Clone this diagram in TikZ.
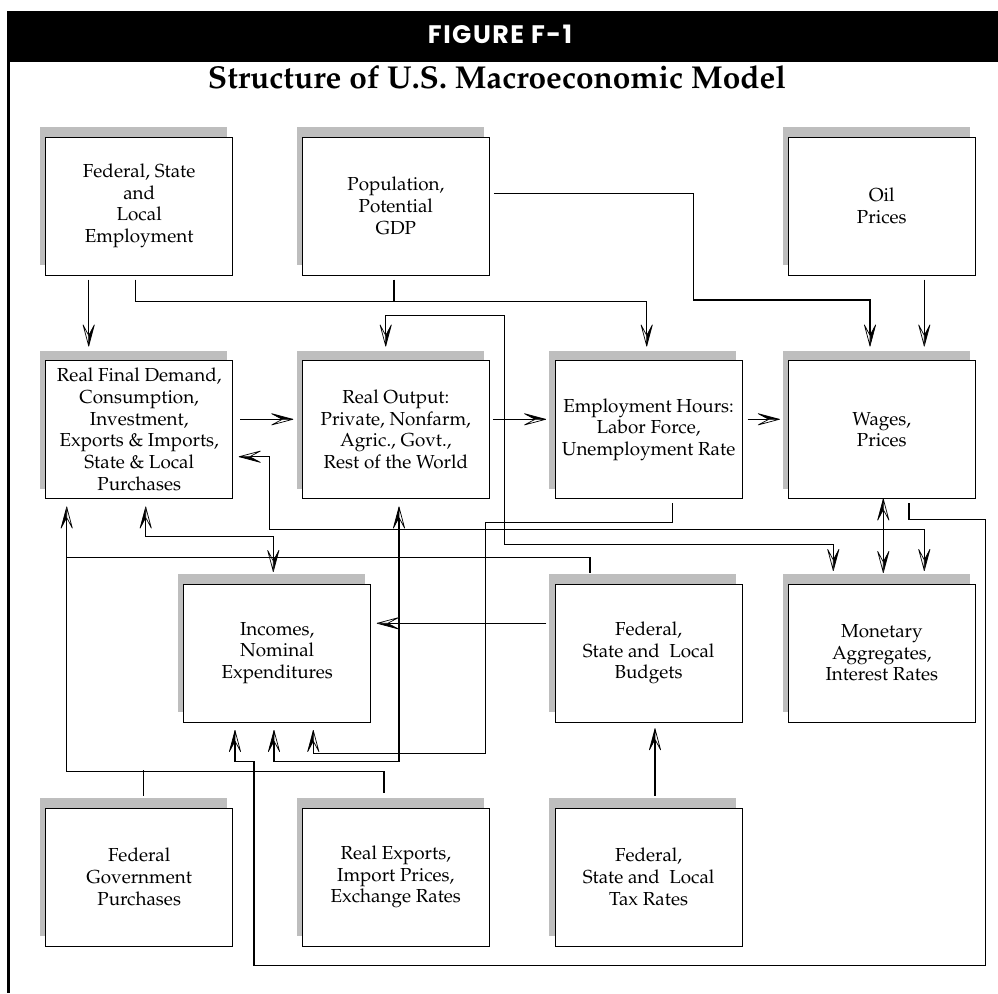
\documentclass[tikz,border=0pt]{standalone}
\usepackage[T1,TU]{fontenc}
\usepackage{fontspec}
\newfontfamily\headfont{Poppins}[LetterSpace=6]
\newcommand\pala{\fontencoding{T1}\fontfamily{ppl}\selectfont}
\usepackage{tikz}
\usetikzlibrary{calc, shadows}

\definecolor{shade}{HTML}{BEBEBE}

% barbed tip: left half solid, right half open
\pgfdeclarearrow{
  name = Barb,
  setup code = {
    \pgfarrowssettipend{0pt}
    \pgfarrowssetlineend{-7pt}
    \pgfarrowssetvisualbackend{-15pt}
    \pgfarrowssetbackend{-15pt}
    \pgfarrowshullpoint{0pt}{0pt}
    \pgfarrowsupperhullpoint{-15pt}{4pt}
  },
  drawing code = {
    \pgfsetlinewidth{0.5pt}
    \pgfsetroundjoin
    \pgfpathmoveto{\pgfqpoint{0pt}{0pt}}
    \pgfpathlineto{\pgfqpoint{-15pt}{4pt}}
    \pgfpathlineto{\pgfqpoint{-7.5pt}{0pt}}
    \pgfpathclose
    \pgfsetfillcolor{black}
    \pgfusepathqfillstroke
    \pgfpathmoveto{\pgfqpoint{0pt}{0pt}}
    \pgfpathlineto{\pgfqpoint{-15pt}{-4pt}}
    \pgfpathlineto{\pgfqpoint{-7.5pt}{0pt}}
    \pgfpathclose
    \pgfsetfillcolor{white}
    \pgfusepathqfillstroke
  }
}

\begin{document}
\begin{tikzpicture}[x=0.25mm, y=-0.25mm,
  box/.style={draw, line width=0.7pt, fill=white, inner sep=0pt,
    minimum width=46.75mm, minimum height=34.5mm, align=center,
    font=\pala\fontsize{13.4}{15.4}\selectfont,
    general shadow={fill=shade, shadow xshift=-1.43mm, shadow yshift=2.43mm}},
  wire/.style={line width=0.9pt},
  feed/.style={wire, -Barb},
  twoway/.style={wire, Barb-Barb}]
\useasboundingbox (0,0) rectangle (998,993);

\fill (7,11) rectangle (998,62);
\draw[line width=2.1pt] (8.5,62) -- (8.5,993);
\node[text=white, font=\headfont\bfseries\fontsize{18}{20}\selectfont] (head) at (500,34) {FIGURE F-1};
\node[font=\pala\bfseries\fontsize{22.5}{25}\selectfont] (title) at (497,77.5) {Structure of U.S. Macroeconomic Model};

\node[box] (fsle) at (139.2, 206) {Federal, State\\and\\Local\\Employment};
\node[box] (pop) at (395.8, 206) {Population,\\Potential\\GDP};
\node[box] (oil) at (881.8, 206) {Oil\\Prices};

\node[box] (rfd) at (139.2, 429.5) {Real Final Demand,\\Consumption,\\Investment,\\Exports \& Imports,\\State \& Local\\Purchases};
\node[box] (ro) at (395.8, 429.5) {Real Output:\\Private, Nonfarm,\\Agric., Govt.,\\Rest of the World};
\node[box] (emp) at (648.6, 429.5) {Employment Hours:\\Labor Force,\\Unemployment Rate};
\node[box] (wp) at (881.8, 429.5) {Wages,\\Prices};

\node[box] (inc) at (277.2, 653) {Incomes,\\Nominal\\Expenditures};
\node[box] (bud) at (648.6, 653) {Federal,\\State and~ Local\\Budgets};
\node[box] (mon) at (881.8, 653) {Monetary\\Aggregates,\\Interest Rates};

\node[box] (fgp) at (139.2, 877) {Federal\\Government\\Purchases};
\node[box] (rex) at (395.8, 877) {Real Exports,\\Import Prices,\\Exchange Rates};
\node[box] (tax) at (648.6, 877) {Federal,\\State and~ Local\\Tax Rates};

\draw[feed] ($(fsle.south)+(-50.5,4)$) -- ($(rfd.north)+(-50.5,-14)$);
\draw[feed] ($(fsle.south)+(-3.9,4)$) |- ($(emp.north)+(-1.9,-58.8)$) -- ($(emp.north)+(-1.9,-14)$);
\draw[wire] ($(pop.south)+(-1.8,4)$) -- ($(pop.south)+(-1.8,26.7)$);
\draw[feed] ($(pop.east)+(4,-12.7)$) -| ($(pop.east)+(204,94)$) -| ($(wp.north)+(-11.8,-14)$);
\draw[feed] ($(oil.south)+(42.5,4)$) -- ($(wp.north)+(42.5,-14)$);

\draw[feed] ($(rfd.east)+(7,-10.2)$) -- ($(ro.west)+(-9,-10.2)$);
\draw[feed] ($(ro.east)+(3,-10.2)$) -- ($(emp.west)+(-9,-10.2)$);
\draw[feed] ($(emp.east)+(5,-10.2)$) -- ($(wp.west)+(-8.5,-10.2)$);

\draw[twoway] ($(rfd.east)+(6,27.2)$) -| ($(rfd.east)+(36.6,99.8)$) -| ($(mon.north)+(42.5,-13)$);
\draw[twoway] ($(rfd.south)+(6.5,8)$) |- ($(inc.north)+(-3.9,-46.7)$) -- ($(inc.north)+(-3.9,-12)$);
\draw[twoway] ($(ro.north)+(-10.1,-14)$) |- ($(ro.north)+(108.5,-44.8)$) |- ($(mon.north)+(-48.5,-39)$) -- ($(mon.north)+(-48.5,-13)$);
\draw[twoway] ($(wp.south)+(1.5,0)$) -- ($(mon.north)+(1.5,-11)$);
\draw[twoway] ($(ro.south)+(3.2,8)$) |- ($(inc.south)+(-3.2,39)$) -- ($(inc.south)+(-3.2,8)$);

\draw[feed] ($(emp.south)+(23.7,4)$) |- ($(inc.south)+(208.1,-200.3)$) |- ($(inc.south)+(36.1,30.7)$) -- ($(inc.south)+(36.1,8)$);
\draw[feed] ($(wp.south)+(27.2,4)$) |- ($(wp.south)+(103.9,20.5)$) |- ($(inc.south)+(-23.2,243)$) |- ($(inc.south)+(-42.2,39)$) -- ($(inc.south)+(-42.2,8)$);
\draw[feed] ($(bud.west)+(-8.3,-29.7)$) -- ($(inc.east)+(6,-29.7)$);

\draw[feed] ($(bud.north)+(-58.6,-11)$) |- ($(rfd.south)+(-72.5,58.2)$) -- ($(rfd.south)+(-72.5,8)$);
\draw[wire] ($(rex.north)+(-11.8,-15)$) |- ($(rfd.south)+(-72.5,272.2)$) -- ($(rfd.south)+(-72.5,58.2)$);
\draw[wire] ($(fgp.north)+(4.1,-12)$) -- ($(fgp.north)+(4.1,-37.3)$);
\draw[feed] ($(tax.north)+(6.4,-12)$) -- ($(bud.south)+(6.4,6.3)$);

\end{tikzpicture}
\end{document}
